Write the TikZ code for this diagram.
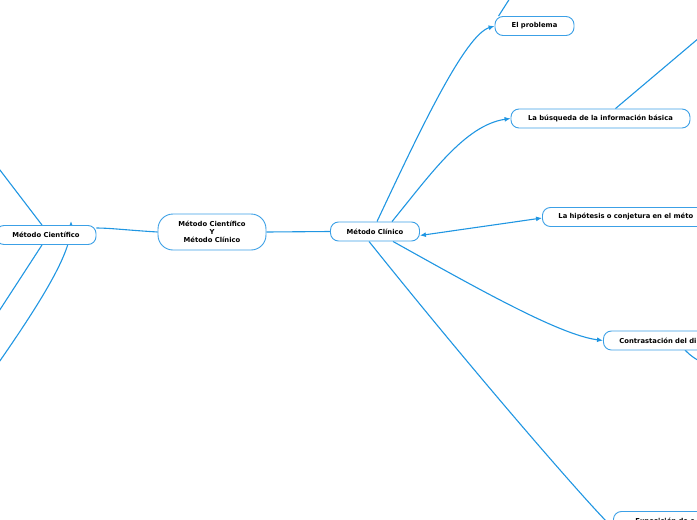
\documentclass[tikz,border=0pt]{standalone}
\usepackage{fontspec}
\setmainfont{DejaVu Sans}
\usetikzlibrary{arrows.meta,calc,backgrounds}
\definecolor{mmblue}{RGB}{32,150,226}
\definecolor{mmborder}{RGB}{60,160,230}
\begin{document}
\begin{tikzpicture}[x=1pt,y=-1pt,
  box/.style={draw=mmborder, line width=0.9pt, fill=white, rounded corners=8pt,
    minimum height=19pt, inner sep=0pt, font=\fontsize{6.8}{8}\selectfont\bfseries, text=black},
  wide/.style={box, anchor=west, minimum width=222pt, text width=190pt, align=left},
  conn/.style={draw=mmblue, line width=1.1pt},
  tip/.style={-{Latex[length=6pt,width=5pt]}},
  bitip/.style={{Latex[length=6pt,width=5pt]}-{Latex[length=6pt,width=5pt]}}]
\useasboundingbox (0,0) rectangle (697,520);
\clip (0,0) rectangle (697,520);

\node[box, minimum width=108pt, minimum height=36pt, rounded corners=15pt, align=center] (root) at (212,232)
  {Método Científico\\Y\\Método Clínico};
\node[box, minimum width=100pt] (mc) at (46,235) {Método Científico};
\node[box, minimum width=89pt] (ml) at (375,231.5) {Método Clínico};
\node[box, minimum width=79pt] (p1) at (534.5,26) {El problema};
\node[box, minimum width=179pt] (p2) at (600.5,118.5) {La búsqueda de la información básica};
\node[wide] (p3) at (542,217) {La hipótesis o conjetura en el méto};
\node[wide] (p4) at (603,340.5) {Contrastación del di};
\node[wide] (p5) at (613,521) {\hspace*{6pt}Exposición de e};

\coordinate (l1) at (-10,157);
\coordinate (l2) at (-10,325);
\coordinate (l3) at (-10,375);
\coordinate (o1) at (512,-5);
\coordinate (o2) at (712,27);
\coordinate (o3) at (712,368);

\begin{pgfonlayer}{background}
  \draw[conn] (root.west) .. controls (125,230) and (110,228) .. ($(mc.east)+(0,-7)$);
  \draw[conn] (root.east) -- (ml.west);
  \draw[conn] (l1) -- ($(mc.north)+(-4,0)$);
  \draw[conn] (l2) -- ($(mc.south)+(-4,0)$);
  \draw[conn, tip] (l3) .. controls (50,290) and (71,250) .. ($(mc.north)+(25,-4)$);
  \draw[conn, tip] ($(ml.north)+(2,0)$) .. controls (420,130) and (465,35) .. (p1.west);
  \draw[conn, tip] ($(ml.north)+(17,0)$) .. controls (430,175) and (465,125) .. (p2.west);
  \draw[conn, bitip] ($(ml.east)+(0,4)$) -- ($(p3.west)+(0,1)$);
  \draw[conn, tip] ($(ml.south)+(18,0)$) .. controls (480,290) and (560,335) .. (p4.west);
  \draw[conn, tip] ($(ml.south)+(-6,0)$) .. controls (480,380) and (585,500) .. ($(p5.west)+(0,7)$);
  \draw[conn] ($(p1.north west)+(4,0)$) -- (o1);
  \draw[conn] ($(p2.north)+(15,0)$) -- (o2);
  \draw[conn] (685,350) .. controls (692,357) .. (o3);
\end{pgfonlayer}
\end{tikzpicture}
\end{document}
